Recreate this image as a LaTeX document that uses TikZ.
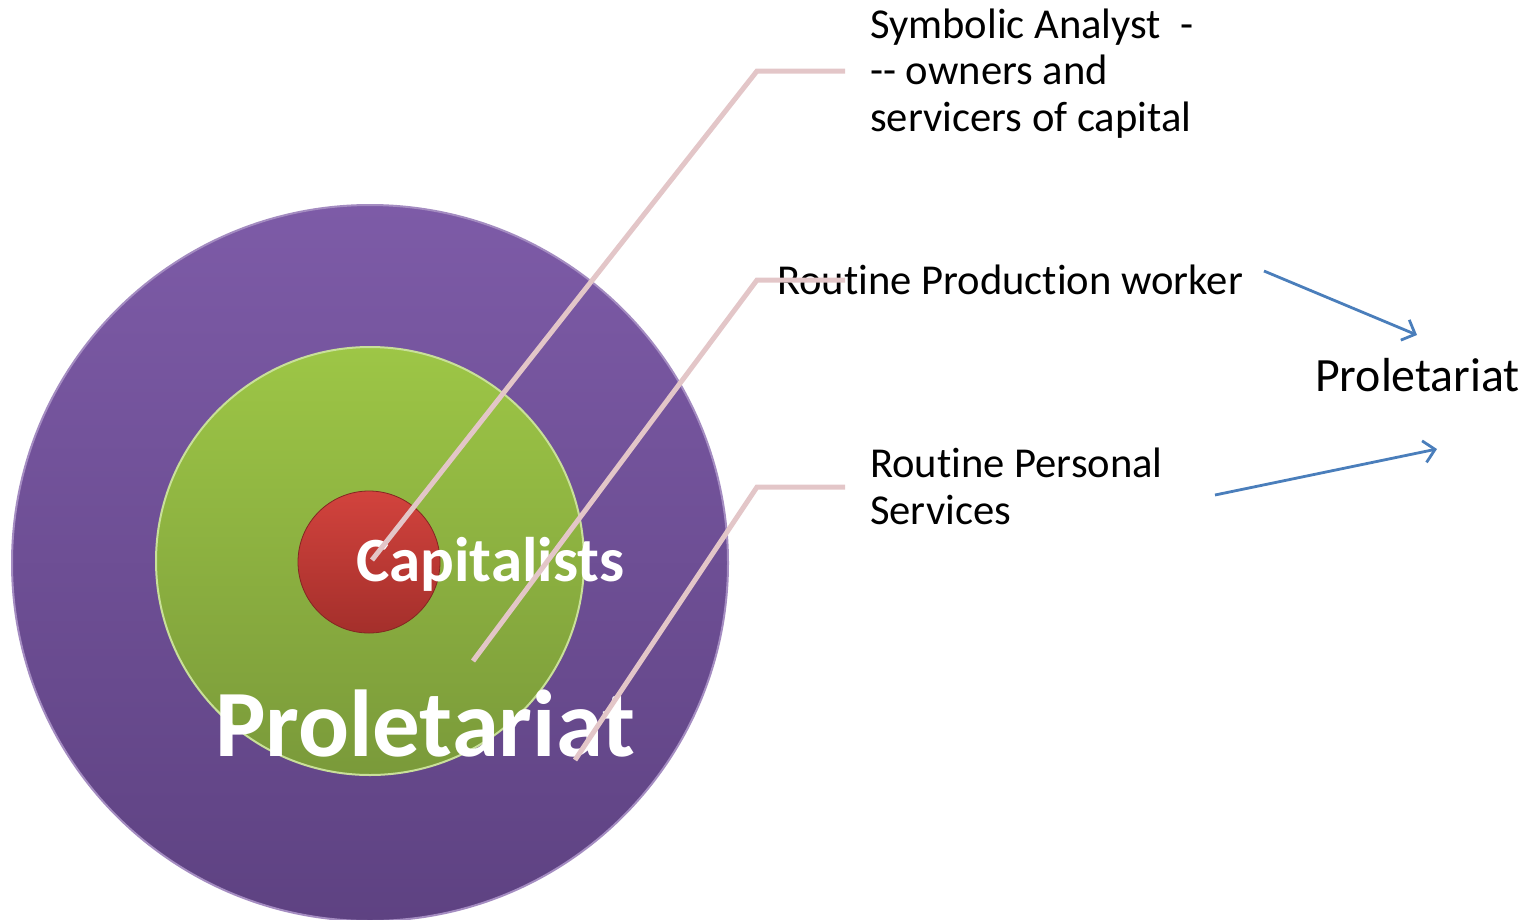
\documentclass[tikz,border=0pt]{standalone}
\usepackage{fontspec}
\setmainfont{Carlito}[Ligatures=NoCommon]
\usetikzlibrary{arrows.meta}
\definecolor{purpT}{HTML}{7D5BA7}
\definecolor{purpB}{HTML}{5E4282}
\definecolor{greenT}{HTML}{9DC646}
\definecolor{greenB}{HTML}{7A9A3A}
\definecolor{redT}{HTML}{D2433D}
\definecolor{redB}{HTML}{A42F2B}
\definecolor{pinkline}{HTML}{E3C6C8}
\definecolor{bluearrow}{HTML}{4A7EBB}
\tikzset{
  disc/.style={circle, inner sep=0pt, shading=axis, shading angle=0},
  leader/.style={draw=pinkline, line width=5pt, line join=miter},
  blackLabel/.style={anchor=base west, inner sep=0pt, align=left, text=black,
     font=\fontsize{42.6}{46.5}\selectfont},
  whiteBig/.style={anchor=base west, inner sep=0pt, text=white},
  blueArrow/.style={draw=bluearrow, line width=2.8pt,
     -{Straight Barb[length=11pt,width=22pt,line width=2.8pt]}}
}
\begin{document}
\begin{tikzpicture}[x=1pt,y=-1pt]
\useasboundingbox (0,0) rectangle (1538,919);
\clip (0,0) rectangle (1538,919);
% discs
\node[disc, minimum size=716pt, top color=purpT, bottom color=purpB,
      draw=purpT!70!white, line width=2pt] (outer) at (370,563) {};
\node[disc, minimum size=428pt, top color=greenT, bottom color=greenB,
      draw=greenT!55!white, line width=2pt] (middle) at (370,561) {};
\node[disc, minimum size=142pt, top color=redT, bottom color=redB,
      draw=redB!80!black, line width=0.8pt] (inner) at (369,562) {};
% white labels
\node[whiteBig, font=\bfseries\fontsize{63}{70}\selectfont] (capt) at (356,581) {Capitalists};
\node[whiteBig, font=\bfseries\fontsize{95}{100}\selectfont] (prolbig) at (215,756) {Proletariat};
% black labels (anchor = baseline of last line)
\node[blackLabel] (symb) at (870,131) {Symbolic Analyst\ \ -\\-{}- owners and\\servicers of capital};
\node[blackLabel] (rpw) at (777,294) {Routine Production worker};
\node[blackLabel] (rps) at (870,524) {Routine Personal\\Services};
\node[blackLabel, font=\fontsize{47.8}{50}\selectfont] (prolright) at (1315,391) {Proletariat};
% leader lines
\coordinate (l1s) at (372,560);
\coordinate (l1k) at (757,71);
\coordinate (l1e) at (845,71);
\coordinate (l2s) at (473,661);
\coordinate (l2k) at (757,280);
\coordinate (l2e) at (845,280);
\coordinate (l3s) at (575,760);
\coordinate (l3k) at (757,487);
\coordinate (l3e) at (845,487);
\draw[leader] (l1s) -- (l1k) -- (l1e);
\draw[leader] (l2s) -- (l2k) -- (l2e);
\draw[leader] (l3s) -- (l3k) -- (l3e);
% blue arrows
\coordinate (a1s) at (1264,271);
\coordinate (a1e) at (1417,335);
\coordinate (a2s) at (1215,495);
\coordinate (a2e) at (1437,449);
\draw[blueArrow] (a1s) -- (a1e);
\draw[blueArrow] (a2s) -- (a2e);
\end{tikzpicture}
\end{document}
